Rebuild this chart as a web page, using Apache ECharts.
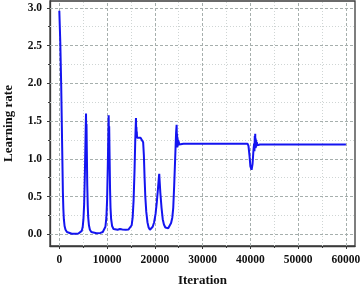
<!DOCTYPE html>
<html>
<head>
<meta charset="utf-8">
<script src="https://cdn.jsdelivr.net/npm/echarts@6/dist/echarts.min.js"></script>
<style>
html,body{margin:0;padding:0;background:#fff;}
#c{width:360px;height:288px;}
</style>
</head>
<body>
<div id="c"></div>
<script>
var iterations = [
  0, 200, 400, 600, 750, 850, 950, 1100, 1300, 1600, 2000, 2600, 3400, 4000, 4400, 4700, 4900, 5050, 5200, 5350, 5480, 5590, 5640, 5690, 5760, 5850, 5950, 6050, 6200, 6400, 6700, 7100, 7800, 8600, 9100, 9400, 9650, 9850, 10000, 10150, 10270, 10330, 10380, 10440, 10520, 10620, 10720, 10850, 11050, 11350, 11700, 12200, 12700, 13200, 13900, 14500, 14900, 15150, 15350, 15550, 15750, 15900, 16050, 16100, 16140, 16180, 16220, 16270, 16350, 16600, 17000, 17350, 17550, 17700, 17850, 18000, 18200, 18450, 18700, 18970, 19250, 19550, 19850, 20150, 20400, 20650, 20850, 20920, 20990, 21150, 21400, 21650, 21900, 22200, 22550, 22800, 23100, 23400, 23650, 23850, 24050, 24250, 24450, 24560, 24620, 24660, 24700, 24750, 24800, 24860, 24920, 25000, 25100, 25250, 26000, 39400, 39600, 39800, 40000, 40250, 40450, 40650, 40780, 40850, 40920, 40970, 41010, 41060, 41110, 41160, 41220, 41280, 41350, 41450, 41600, 42000, 60000
];
var learningRate = [
  2.96, 2.55, 1.95, 1.15, 0.55, 0.33, 0.2, 0.11, 0.06, 0.03, 0.015, 0.008, 0.006, 0.01, 0.02, 0.045, 0.1, 0.2, 0.4, 0.8, 1.25, 1.6, 1.3, 1.46, 1.1, 0.65, 0.38, 0.22, 0.12, 0.06, 0.03, 0.018, 0.015, 0.018, 0.03, 0.05, 0.1, 0.22, 0.45, 0.9, 1.35, 1.575, 1.3, 1.43, 1.05, 0.6, 0.35, 0.2, 0.11, 0.07, 0.055, 0.06, 0.07, 0.065, 0.06, 0.065, 0.08, 0.12, 0.22, 0.45, 0.85, 1.25, 1.54, 1.35, 1.42, 1.3, 1.36, 1.28, 1.3, 1.29, 1.28, 1.27, 1.22, 1.05, 0.75, 0.5, 0.3, 0.16, 0.09, 0.06, 0.07, 0.1, 0.16, 0.27, 0.42, 0.6, 0.76, 0.8, 0.72, 0.55, 0.35, 0.2, 0.13, 0.09, 0.075, 0.08, 0.1, 0.15, 0.22, 0.35, 0.65, 1.0, 1.35, 1.45, 1.2, 1.33, 1.15, 1.28, 1.17, 1.25, 1.18, 1.23, 1.19, 1.2, 1.2, 1.2, 1.17, 1.05, 0.9, 0.855, 0.93, 1.12, 1.2, 1.1, 1.3, 1.15, 1.33, 1.14, 1.27, 1.15, 1.24, 1.17, 1.22, 1.18, 1.19, 1.19, 1.19
];
var xMajorTicks = [0, 10000, 20000, 30000, 40000, 50000, 60000];
var xMinorTicks = [5000, 15000, 25000, 35000, 45000, 55000];
var yMajorTicks = [0, 0.5, 1.0, 1.5, 2.0, 2.5, 3.0];
var yMinorTicks = [0.25, 0.75, 1.25, 1.75, 2.25, 2.75];

var points = iterations.map(function (x, i) { return [x, learningRate[i]]; });

var font = 'Liberation Serif';
var X_MIN = -1950, X_MAX = 61900, Y_MIN = -0.155, Y_MAX = 3.09;
var majorStyle = { color: '#a6afad', width: 1, type: [3, 2] };
var minorStyle = { color: '#cfd5d4', width: 1, type: [1, 2] };

var gridLines = []
  .concat(xMinorTicks.map(function (v) { return { xAxis: v, lineStyle: minorStyle }; }))
  .concat(yMinorTicks.map(function (v) { return { yAxis: v, lineStyle: minorStyle }; }))
  .concat(xMajorTicks.map(function (v) { return { xAxis: v, lineStyle: majorStyle }; }))
  .concat(yMajorTicks.map(function (v) { return { yAxis: v, lineStyle: majorStyle }; }));

var chart = echarts.init(document.getElementById('c'), null, { renderer: 'canvas' });
chart.setOption({
  animation: false,
  backgroundColor: '#fff',
  grid: { left: 50, right: 5, top: 1, bottom: 42, containLabel: false, outerBoundsMode: 'none', show: true, borderColor: '#3a3a3a', borderWidth: 1.3, backgroundColor: 'transparent' },
  xAxis: [
    {
      type: 'value', min: X_MIN, max: X_MAX, position: 'bottom',
      name: 'Iteration', nameLocation: 'middle', nameGap: 28,
      nameTextStyle: { fontFamily: font, fontWeight: 'bold', fontSize: 13, color: '#111' },
      axisLine: { show: true, onZero: false, lineStyle: { color: '#3a3a3a', width: 1.3 } },
      axisTick: { show: true, inside: false, length: 3, customValues: xMajorTicks, lineStyle: { color: '#3a3a3a' } },
      axisLabel: { customValues: xMajorTicks, margin: 8, fontFamily: font, fontWeight: 'bold', fontSize: 11.5, color: '#111', formatter: function (v) { return String(v); } },
      splitLine: { show: false }
    },
    {
      type: 'value', min: X_MIN, max: X_MAX, position: 'bottom',
      axisLine: { show: false, onZero: false },
      axisTick: { show: true, inside: false, length: 2, customValues: xMinorTicks, lineStyle: { color: '#3a3a3a' } },
      axisLabel: { show: false, customValues: xMinorTicks },
      splitLine: { show: false }
    }
  ],
  yAxis: [
    {
      type: 'value', min: Y_MIN, max: Y_MAX, position: 'left',
      name: 'Learning rate', nameLocation: 'middle', nameGap: 35, nameRotate: 90,
      nameTextStyle: { fontFamily: font, fontWeight: 'bold', fontSize: 13, color: '#111' },
      axisLine: { show: true, onZero: false, lineStyle: { color: '#3a3a3a', width: 1.3 } },
      axisTick: { show: true, inside: false, length: 3, customValues: yMajorTicks, lineStyle: { color: '#3a3a3a' } },
      axisLabel: { customValues: yMajorTicks, margin: 8, fontFamily: font, fontWeight: 'bold', fontSize: 11.5, color: '#111', formatter: function (v) { return v.toFixed(1); } },
      splitLine: { show: false }
    },
    {
      type: 'value', min: Y_MIN, max: Y_MAX, position: 'left',
      axisLine: { show: false, onZero: false },
      axisTick: { show: true, inside: false, length: 2, customValues: yMinorTicks, lineStyle: { color: '#3a3a3a' } },
      axisLabel: { show: false, customValues: yMinorTicks },
      splitLine: { show: false }
    }
  ],
  series: [{
    type: 'line',
    xAxisIndex: 0, yAxisIndex: 0,
    data: points,
    showSymbol: false,
    smooth: false,
    lineStyle: { color: '#1414f0', width: 2 },
    z: 10,
    markLine: {
      silent: true, symbol: 'none', z: 1, animation: false,
      label: { show: false },
      emphasis: { disabled: true },
      data: gridLines
    }
  }]
});
</script>
</body>
</html>
